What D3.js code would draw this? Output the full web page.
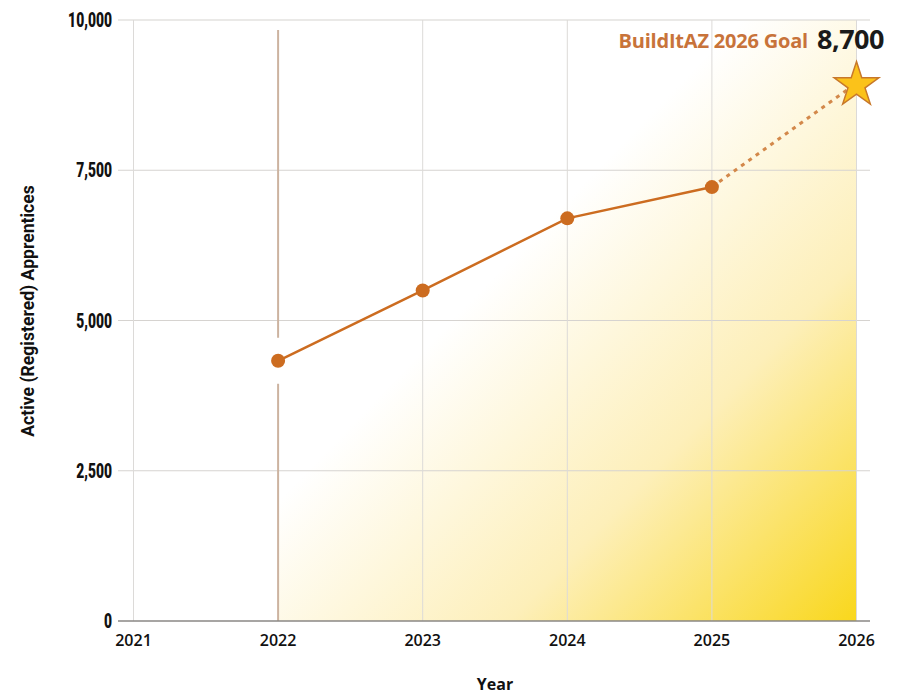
<!DOCTYPE html>
<html>
<head>
<meta charset="utf-8">
<script src="https://cdn.jsdelivr.net/npm/d3@7"></script>
<style>
  body { margin: 0; background: #fff; }
  svg { display: block; }
</style>
</head>
<body>
<svg id="chart" width="897" height="694"></svg>
<script>
// data
const years = [2022, 2023, 2024, 2025]
const apprentices = [4330, 5500, 6700, 7220]
const goalYear = 2026
const goalLabel = "8,700"
const goalMarker = 8950   // where the star sits on the chart
const yTicks = [0, 2500, 5000, 7500, 10000]
const xTicks = [2021, 2022, 2023, 2024, 2025, 2026]

const svg = d3.select("#chart")
const plotLeft = 133.5, plotRight = 856.5, plotTop = 20, plotBottom = 621

const x = d3.scaleLinear().domain([2021, 2026]).range([plotLeft, plotRight])
const y = d3.scaleLinear().domain([0, 10000]).range([plotBottom, plotTop])

// yellow gradient behind the data
const defs = svg.append("defs")
const grad = defs.append("linearGradient").attr("id", "glow")
  .attr("x1", 0).attr("y1", 0).attr("x2", 1).attr("y2", 1)
grad.append("stop").attr("offset", "0.4").attr("stop-color", "#ffffff")
grad.append("stop").attr("offset", "0.7").attr("stop-color", "#fdefb9")
grad.append("stop").attr("offset", "1").attr("stop-color", "#f9d71c")

svg.append("rect")
  .attr("x", x(2022)).attr("y", y(10000))
  .attr("width", x(2026) - x(2022)).attr("height", y(0) - y(10000))
  .attr("fill", "url(#glow)")

// grid
svg.append("g").selectAll("line").data(yTicks.filter(d => d > 0)).join("line")
  .attr("x1", 118).attr("x2", 870)
  .attr("y1", d => y(d)).attr("y2", d => y(d))
  .attr("stroke", "#d6d3d0").attr("stroke-width", 1.2)

svg.append("g").selectAll("line").data(xTicks.filter(d => d != 2022)).join("line")
  .attr("x1", d => x(d)).attr("x2", d => x(d))
  .attr("y1", y(10000)).attr("y2", y(0))
  .attr("stroke", "#dcdad8").attr("stroke-width", 1)

// highlighted 2022 line, broken round the point
const gap = 23
svg.append("line")
  .attr("x1", x(2022)).attr("x2", x(2022))
  .attr("y1", 30).attr("y2", y(apprentices[0]) - gap)
  .attr("stroke", "#ccb3a0").attr("stroke-width", 2)
svg.append("line")
  .attr("x1", x(2022)).attr("x2", x(2022))
  .attr("y1", y(apprentices[0]) + gap).attr("y2", y(0))
  .attr("stroke", "#ccb3a0").attr("stroke-width", 2)

// baseline
svg.append("line")
  .attr("x1", 118).attr("x2", 870)
  .attr("y1", y(0)).attr("y2", y(0))
  .attr("stroke", "#8a8785").attr("stroke-width", 1.5)

// y labels, squeezed to look condensed
svg.append("g").selectAll("text").data(yTicks).join("text")
  .attr("transform", d => `translate(112,${y(d) + 7}) scale(0.66,1)`)
  .attr("text-anchor", "end")
  .style("font-family", "Roboto, sans-serif")
  .style("font-weight", 900).style("font-size", "21px")
  .attr("fill", "#111")
  .text(d => d3.format(",")(d))

// x labels
svg.append("g").selectAll("text").data(xTicks).join("text")
  .attr("x", d => x(d)).attr("y", 646)
  .attr("text-anchor", "middle")
  .style("font-family", "'Open Sans', sans-serif")
  .style("font-weight", 600).style("font-size", "16px")
  .attr("fill", "#111")
  .text(d => d)

// axis titles
svg.append("text")
  .attr("x", 495).attr("y", 690)
  .attr("text-anchor", "middle")
  .style("font-family", "'Open Sans', sans-serif")
  .style("font-weight", "bold").style("font-size", "16px")
  .attr("fill", "#111")
  .text("Year")

svg.append("text")
  .attr("transform", "translate(34,311) rotate(-90) scale(0.95,1)")
  .attr("text-anchor", "middle")
  .style("font-family", "Roboto, sans-serif")
  .style("font-weight", "bold").style("font-size", "18.5px")
  .attr("fill", "#111")
  .text("Active (Registered) Apprentices")

// dashed line to the goal
svg.append("line")
  .attr("x1", x(2025)).attr("y1", y(apprentices[3]))
  .attr("x2", x(goalYear)).attr("y2", y(goalMarker))
  .attr("stroke", "#d3884a").attr("stroke-width", 3)
  .attr("stroke-dasharray", "4,5")

// line + points
const pts = years.map((yr, i) => ({yr, v: apprentices[i]}))
svg.append("path").datum(pts)
  .attr("fill", "none").attr("stroke", "#cc6c20").attr("stroke-width", 2.5)
  .attr("d", d3.line().x(d => x(d.yr)).y(d => y(d.v)))

svg.append("g").selectAll("circle").data(pts).join("circle")
  .attr("cx", d => x(d.yr)).attr("cy", d => y(d.v)).attr("r", 7)
  .attr("fill", "#cc6c20")

// star
const star = d3.symbol().type(d3.symbolStar).size(620)
svg.append("path")
  .attr("d", star())
  .attr("transform", `translate(${x(goalYear)},${y(goalMarker) + 2})`)
  .attr("fill", "#fbc21a").attr("stroke", "#c8782a").attr("stroke-width", 1.5)

// goal label
svg.append("text")
  .attr("x", 808).attr("y", 48)
  .attr("text-anchor", "end")
  .style("font-family", "'Open Sans', sans-serif")
  .style("font-weight", "bold").style("font-size", "20px")
  .style("letter-spacing", "-0.2px")
  .attr("fill", "#c8733a")
  .text("BuildItAZ 2026 Goal")

svg.append("text")
  .attr("x", 817).attr("y", 49)
  .style("font-family", "'Open Sans', sans-serif")
  .style("font-weight", "bold").style("font-size", "27px")
  .style("letter-spacing", "-0.5px")
  .attr("fill", "#1a1a1a")
  .text(goalLabel)
</script>
</body>
</html>
